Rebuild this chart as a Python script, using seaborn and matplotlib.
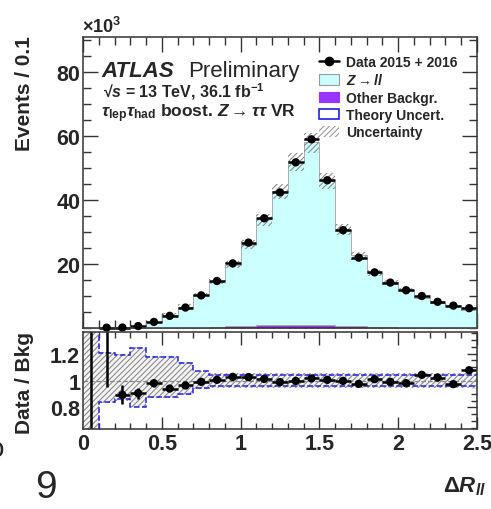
import numpy as np
import pandas as pd
import seaborn as sns
import matplotlib.pyplot as plt
from matplotlib.lines import Line2D
from matplotlib.patches import Patch
from matplotlib.ticker import MultipleLocator, FixedLocator, FuncFormatter

# binning in delta R (0.1 wide bins)
edges = np.round(np.linspace(0, 2.5, 26), 2)
centers = np.round(edges[:-1] + 0.05, 2)

# event counts in units of 1e3
data_evt = [np.nan, 0.1, 0.15, 0.6, 1.9, 3.8, 6.4, 10.2, 14.7, 20.2, 26.7, 34.3, 42.4,
            51.8, 59.0, 46.2, 30.6, 22.0, 17.4, 14.2, 11.8, 10.0, 8.2, 7.0, 6.2]
zll = [0.02, 0.06, 0.17, 0.66, 1.9, 4.0, 6.5, 10.1, 14.3, 19.3, 25.4, 33.2, 42.1,
       51.1, 57.2, 45.2, 30.1, 22.2, 16.9, 14.1, 11.8, 9.4, 7.9, 7.1, 5.7]
other = [0, 0, 0, 0, 0.04, 0.05, 0.1, 0.15, 0.3, 0.5, 0.7, 0.8, 0.8,
         0.9, 0.9, 0.8, 0.7, 0.5, 0.3, 0.2, 0.15, 0.1, 0.05, 0.05, 0.05]

# ratio panel
ratio = [0.3, 1.7, 0.893, 0.906, 0.98, 0.94, 0.963, 0.99, 1.005, 1.027, 1.025, 1.012, 0.988,
         0.997, 1.015, 1.005, 0.997, 0.975, 1.01, 0.99, 0.98, 1.042, 1.022, 0.973, 1.076]
ratio_err = [2.0, 0.75, 0.07, 0.04, 0.025, 0.02, 0.015, 0.012, 0.01, 0.008, 0.008, 0.007, 0.006,
             0.006, 0.006, 0.006, 0.007, 0.008, 0.009, 0.01, 0.011, 0.012, 0.013, 0.014, 0.015]

# relative uncertainties
theory_up = [1.0, 0.207, 0.19, 0.244, 0.175, 0.175, 0.128, 0.067] + [0.038] * 17
theory_dn = [1.0, 0.16, 0.14, 0.193, 0.124, 0.124, 0.10, 0.057] + [0.04] * 17
total_up = [1.0, 0.215, 0.2, 0.25, 0.182, 0.182, 0.135, 0.072] + [0.052] * 17
total_dn = [1.0, 0.168, 0.15, 0.2, 0.13, 0.13, 0.106, 0.062] + [0.058] * 17

sns.set_style("ticks")
plt.rcParams['font.family'] = ['Liberation Sans', 'DejaVu Sans']
plt.rcParams['mathtext.fontset'] = 'custom'
plt.rcParams['mathtext.rm'] = 'Liberation Sans:bold'
plt.rcParams['mathtext.it'] = 'Liberation Sans:italic:bold'
plt.rcParams['mathtext.bf'] = 'Liberation Sans:bold'
plt.rcParams['hatch.linewidth'] = 0.8

W, H = 491, 510
fig = plt.figure(figsize=(W / 100, H / 100), dpi=100)


def fx(px):
    return px / W


def fy(py):
    return 1 - py / H


ax1 = fig.add_axes([fx(83), fy(329), fx(477) - fx(83), fy(38) - fy(329)])
ax2 = fig.add_axes([fx(83), fy(430), fx(477) - fx(83), fy(333) - fy(430)])

# stacked backgrounds
bkg = pd.DataFrame({
    'x': np.concatenate([centers, centers]),
    'w': other + zll,
    'sample': ['Other'] * 25 + ['Zll'] * 25,
})
sns.histplot(data=bkg, x='x', weights='w', hue='sample', hue_order=['Zll', 'Other'],
             bins=list(edges), multiple='stack', element='step', fill=True, alpha=1,
             palette={'Zll': '#ccffff', 'Other': '#9933ff'}, edgecolor='#a0a0a0',
             linewidth=0.6, legend=False, ax=ax1)

model = np.array(zll) + np.array(other)
ax1.stairs(model * (1 + np.array(total_up)), edges, baseline=model * (1 - np.array(total_dn)),
           fill=True, facecolor='none', edgecolor='#8c8c8c', hatch='//////', linewidth=0)

# data points
ax1.errorbar(centers, data_evt, xerr=0.05, fmt='none', ecolor='black', elinewidth=1.8,
             capsize=0, clip_on=False)
sns.scatterplot(x=centers, y=data_evt, color='black', s=36, edgecolor='none',
                ax=ax1, clip_on=False, zorder=5)

ax1.set_xlim(0, 2.5)
ax1.set_ylim(0, 91)
ax1.set_xlabel('')
ax1.set_ylabel('')
ax1.xaxis.set_major_locator(MultipleLocator(0.5))
ax1.xaxis.set_minor_locator(MultipleLocator(0.1))
ax1.yaxis.set_major_locator(FixedLocator([20, 40, 60, 80]))
ax1.yaxis.set_minor_locator(MultipleLocator(5))
ax1.tick_params(which='both', direction='in', top=True, right=True, labelbottom=False,
                width=1.0, color='#333333')
ax1.tick_params(which='major', length=10.5, labelsize=15.5, pad=2)
ax1.tick_params(which='minor', length=5.5)
for lab in ax1.get_yticklabels():
    lab.set_fontweight('bold')

# ratio panel
ax2.stairs(1 + np.array(total_up), edges, baseline=1 - np.array(total_dn), fill=True,
           facecolor='#f4f4f4', edgecolor='#8c8c8c', hatch='//////', linewidth=0)
ax2.axhline(1, ls='--', color='#888888', lw=0.9)
ax2.stairs(1 + np.array(theory_up), edges, baseline=None, color='#2020e0', ls='--', lw=1.1)
ax2.stairs(1 - np.array(theory_dn), edges, baseline=None, color='#2020e0', ls='--', lw=1.1)
ax2.errorbar(centers, ratio, xerr=0.05, yerr=ratio_err, fmt='none', ecolor='black',
             elinewidth=1.8, capsize=0)
sns.scatterplot(x=centers, y=ratio, color='black', s=36, edgecolor='none', ax=ax2, zorder=5)

ax2.set_xlim(0, 2.5)
ax2.set_ylim(0.64, 1.36)
ax2.set_xlabel('')
ax2.set_ylabel('')
ax2.xaxis.set_major_locator(MultipleLocator(0.5))
ax2.xaxis.set_minor_locator(MultipleLocator(0.1))
ax2.yaxis.set_major_locator(FixedLocator([0.8, 1.0, 1.2]))
ax2.yaxis.set_minor_locator(MultipleLocator(0.05))
ax2.xaxis.set_major_formatter(FuncFormatter(lambda v, p: '%g' % v))
ax2.yaxis.set_major_formatter(FuncFormatter(lambda v, p: '%g' % v))
ax2.tick_params(which='both', direction='in', top=True, right=True, width=1.0, color='#333333')
ax2.tick_params(which='major', length=9, labelsize=15.5, pad=3)
ax2.tick_params(axis='y', which='major', length=7, pad=2)
ax2.tick_params(which='minor', length=4)
for lab in ax2.get_xticklabels() + ax2.get_yticklabels():
    lab.set_fontweight('bold')

for ax in (ax1, ax2):
    for sp in ax.spines.values():
        sp.set_linewidth(1.1)
        sp.set_color('#333333')

# legend
handles = [
    Line2D([0], [0], color='black', lw=1.8, marker='o', markersize=6),
    Patch(facecolor='#ccffff', edgecolor='#9a9a9a', lw=0.8),
    Patch(facecolor='#9933ff', edgecolor='#9933ff', lw=0.8),
    Patch(facecolor='white', edgecolor='#2020e0', lw=1.2),
    Patch(facecolor='none', edgecolor='#9a9a9a', hatch='//////', lw=0),
]
labels = ['Data 2015 + 2016', r'$Z\rightarrow ll$', 'Other Backgr.', 'Theory Uncert.', 'Uncertainty']
leg = fig.legend(handles, labels, loc='upper left', bbox_to_anchor=(fx(319), fy(56)),
                 frameon=False, prop={'weight': 'bold', 'size': 10},
                 handlelength=1.45, handleheight=0.8, handletextpad=0.5,
                 labelspacing=0.24, borderpad=0, borderaxespad=0)

# labels and annotations
fig.text(fx(101), fy(77), 'ATLAS', fontsize=16, fontweight='bold', fontstyle='italic',
         va='baseline')
fig.text(fx(188), fy(77), 'Preliminary', fontsize=16, va='baseline')
fig.text(fx(103), fy(97), '\u221a$s$ = 13 TeV, 36.1 fb$^{-1}$', fontsize=11.5,
         fontweight='bold', va='baseline')
fig.text(fx(101), fy(117), r'$\tau_{\rm lep}\tau_{\rm had}$ boost. $Z\rightarrow\tau\tau$ VR',
         fontsize=12.5, fontweight='bold', va='baseline')
fig.text(fx(82), fy(33), r'$\times$10$^{3}$', fontsize=13, fontweight='bold', va='baseline')
fig.text(fx(25), fy(36), 'Events / 0.1', fontsize=15, fontweight='bold', rotation=90,
         ha='center', va='top')
fig.text(fx(25), fy(383), 'Data / Bkg', fontsize=15, fontweight='bold', rotation=90,
         ha='center', va='center')
fig.text(fx(486), fy(492), r'$\Delta R_{ll}$', fontsize=16, fontweight='bold',
         ha='right', va='baseline')
fig.text(fx(35), fy(498), '9', fontsize=28, va='baseline')
fig.text(fx(4), fy(450), 'o', fontsize=20, ha='right', va='center')

fig.savefig('out.png', dpi=100)
